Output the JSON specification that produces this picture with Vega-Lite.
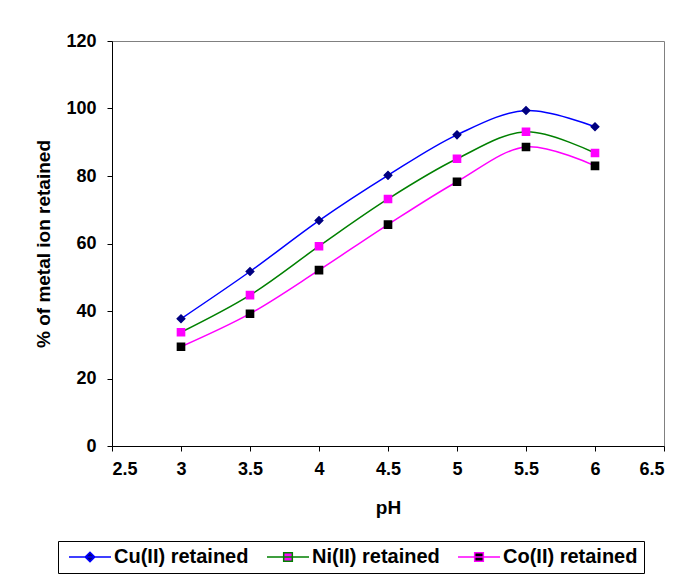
{
  "$schema": "https://vega.github.io/schema/vega-lite/v6.json",
  "width": 552,
  "height": 405,
  "autosize": {"type": "none"},
  "padding": {"left": 112, "top": 41, "right": 21, "bottom": 128},
  "background": "white",
  "data": {
    "values": [
      {"series": "Cu(II) retained", "pH": 3, "retained": 37.7},
      {"series": "Cu(II) retained", "pH": 3.5, "retained": 51.7},
      {"series": "Cu(II) retained", "pH": 4, "retained": 66.8},
      {"series": "Cu(II) retained", "pH": 4.5, "retained": 80.2},
      {"series": "Cu(II) retained", "pH": 5, "retained": 92.2},
      {"series": "Cu(II) retained", "pH": 5.5, "retained": 99.4},
      {"series": "Cu(II) retained", "pH": 6, "retained": 94.6},
      {"series": "Ni(II) retained", "pH": 3, "retained": 33.7},
      {"series": "Ni(II) retained", "pH": 3.5, "retained": 44.7},
      {"series": "Ni(II) retained", "pH": 4, "retained": 59.2},
      {"series": "Ni(II) retained", "pH": 4.5, "retained": 73.2},
      {"series": "Ni(II) retained", "pH": 5, "retained": 85.1},
      {"series": "Ni(II) retained", "pH": 5.5, "retained": 93.1},
      {"series": "Ni(II) retained", "pH": 6, "retained": 86.8},
      {"series": "Co(II) retained", "pH": 3, "retained": 29.4},
      {"series": "Co(II) retained", "pH": 3.5, "retained": 39.2},
      {"series": "Co(II) retained", "pH": 4, "retained": 52.1},
      {"series": "Co(II) retained", "pH": 4.5, "retained": 65.6},
      {"series": "Co(II) retained", "pH": 5, "retained": 78.3},
      {"series": "Co(II) retained", "pH": 5.5, "retained": 88.6},
      {"series": "Co(II) retained", "pH": 6, "retained": 83.0}
    ]
  },
  "encoding": {
    "x": {
      "field": "pH",
      "type": "quantitative",
      "title": "pH",
      "scale": {"domain": [2.5, 6.5], "nice": false, "zero": false},
      "axis": {
        "values": [2.5, 3, 3.5, 4, 4.5, 5, 5.5, 6, 6.5],
        "format": "~g",
        "labelPadding": 9,
        "titlePadding": 20
      }
    },
    "y": {
      "field": "retained",
      "type": "quantitative",
      "title": "% of metal ion retained",
      "scale": {"domain": [0, 120], "nice": false},
      "axis": {
        "values": [0, 20, 40, 60, 80, 100, 120],
        "labelPadding": 11,
        "titlePadding": 12
      }
    }
  },
  "layer": [
    {
      "mark": {"type": "line", "interpolate": "catmull-rom", "strokeWidth": 1.5},
      "encoding": {
        "stroke": {
          "field": "series",
          "type": "nominal",
          "scale": {
            "domain": ["Cu(II) retained", "Ni(II) retained", "Co(II) retained"],
            "range": ["#0000FF", "#008000", "#FF00FF"]
          },
          "legend": {"title": null}
        }
      }
    },
    {
      "mark": {"type": "point", "filled": true, "opacity": 1, "size": 144},
      "encoding": {
        "fill": {
          "field": "series",
          "type": "nominal",
          "scale": {
            "domain": ["Cu(II) retained", "Ni(II) retained", "Co(II) retained"],
            "range": ["#000080", "#FF00FF", "#000000"]
          },
          "legend": {"title": null}
        },
        "shape": {
          "field": "series",
          "type": "nominal",
          "scale": {
            "domain": ["Cu(II) retained", "Ni(II) retained", "Co(II) retained"],
            "range": [
              "M-3.5,0L3.5,0M0,-0.8L0.8,0L0,0.8L-0.8,0Z",
              "M-3.5,0L3.5,0M-0.72,-0.72L0.72,-0.72L0.72,0.72L-0.72,0.72Z",
              "M-3.5,0L3.5,0M-0.72,-0.72L0.72,-0.72L0.72,0.72L-0.72,0.72Z"
            ]
          },
          "legend": {"title": null}
        }
      }
    }
  ],
  "config": {
    "font": "Liberation Sans",
    "view": {"stroke": "#808080", "strokeWidth": 1},
    "axis": {
      "grid": false,
      "domainColor": "#000000",
      "domainWidth": 1,
      "tickColor": "#000000",
      "tickSize": 5,
      "tickWidth": 1,
      "labelFont": "Liberation Sans",
      "labelFontSize": 18,
      "labelFontWeight": "bold",
      "labelColor": "#000000",
      "titleFont": "Liberation Sans",
      "titleFontSize": 19,
      "titleFontWeight": "bold",
      "titleColor": "#000000"
    },
    "legend": {
      "orient": "none",
      "legendX": -54,
      "legendY": 500,
      "direction": "horizontal",
      "columns": 3,
      "columnPadding": 13,
      "padding": 6,
      "strokeColor": "#000000",
      "fillColor": "#FFFFFF",
      "symbolSize": 144,
      "symbolStrokeWidth": 1.5,
      "symbolOffset": 16,
      "labelOffset": 14,
      "labelFont": "Liberation Sans",
      "labelFontSize": 20,
      "labelFontWeight": "bold",
      "labelColor": "#000000",
      "labelLimit": 300
    }
  }
}
